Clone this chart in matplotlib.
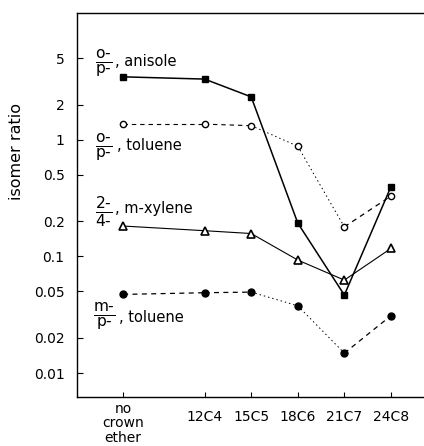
import matplotlib
matplotlib.use("Agg")
import matplotlib.pyplot as plt

plt.rcParams['font.family'] = ['DejaVu Sans']
plt.rcParams['mathtext.fontset'] = 'dejavusans'

# ---- data ----
categories = ["no\ncrown\nether", "12C4", "15C5", "18C6", "21C7", "24C8"]
x_pos = [0.25, 2, 3, 4, 5, 6]
anisole_op = [3.46, 3.31, 2.33, 0.193, 0.0466, 0.395]
toluene_op = [1.36, 1.36, 1.32, 0.88, 0.179, 0.329]
xylene_24 = [0.182, 0.166, 0.157, 0.093, 0.0626, 0.117]
toluene_mp = [0.0472, 0.0488, 0.0494, 0.0377, 0.0148, 0.031]
y_ticks = [5, 2, 1, 0.5, 0.2, 0.1, 0.05, 0.02, 0.01]
y_ticklabels = ["5", "2", "1", "0.5", "0.2", "0.1", "0.05", "0.02", "0.01"]

W, H = 424, 446
fig = plt.figure(figsize=(W / 100, H / 100), dpi=100)
L, R, T, B = 77, 424, 13, 397
ax = fig.add_axes([L / W, 1 - B / H, (R - L) / W, (B - T) / H])
ax.set_yscale('log')
ax.set_xlim(-0.74, 6.71)
ax.set_ylim(0.00623, 12.2)

def seg_plot(vals, styles):
    for i, (ls, lw) in enumerate(styles):
        ax.plot(x_pos[i:i + 2], vals[i:i + 2], color='black', linestyle=ls, lw=lw,
                zorder=2)

dash = (0, (4, 3.5))
fine = (0, (1.5, 3))

seg_plot(anisole_op, [('-', 1.1)] * 5)
seg_plot(toluene_op, [(dash, 0.8), (dash, 0.8), (fine, 0.7), (fine, 0.7), (dash, 0.9)])
seg_plot(xylene_24, [('-', 0.8)] * 5)
seg_plot(toluene_mp, [(dash, 0.9), (dash, 0.9), (fine, 0.7), (fine, 0.7), (dash, 0.9)])

ax.plot(x_pos, anisole_op, linestyle='none', marker='s', ms=5, mfc='black',
        mec='black', zorder=4)
ax.plot(x_pos, toluene_op, linestyle='none', marker='o', ms=4.5, mfc='white',
        mec='black', mew=1.0, zorder=4)
ax.plot(x_pos, xylene_24, linestyle='none', marker='^', ms=6, mfc='white',
        mec='black', mew=1.2, zorder=5)
ax.plot(x_pos, toluene_mp, linestyle='none', marker='o', ms=5, mfc='black',
        mec='black', zorder=4)

# spines & ticks
ax.spines['right'].set_visible(False)
for s in ['left', 'bottom', 'top']:
    ax.spines[s].set_linewidth(1.0)
ax.set_yticks(y_ticks)
ax.set_yticklabels(y_ticklabels)
ax.minorticks_off()
ax.tick_params(axis='y', direction='in', length=4, width=0.8, pad=9, labelsize=10)
ax.set_xticks(x_pos)
ax.set_xticklabels([])
ax.tick_params(axis='x', direction='in', length=3.5, width=0.8)

# x labels
xt = ax.get_xaxis_transform()
for xp, lab in zip(x_pos, categories):
    if "\n" in lab:
        ax.text(xp, -0.012, lab, transform=xt, ha='center', va='top', fontsize=10,
                linespacing=1.05)
    else:
        ax.text(xp, -0.034, lab, transform=xt, ha='center', va='top', fontsize=10)

def px(x, y):
    return x / W, 1 - y / H

fig.text(*px(17, 152), "isomer ratio", rotation=90, ha='center', va='center',
         fontsize=11.5)

series_labels = [
    (r'$\frac{\text{o-}}{\text{p-}}$', ", anisole", 64, 61, 115),
    (r'$\frac{\text{o-}}{\text{p-}}$', ", toluene", 148, 146, 117),
    (r'$\frac{\text{2-}}{\text{4-}}$', ", m-xylene", 212, 208, 115),
    (r'$\frac{\text{m-}}{\text{p-}}$', ", toluene", 317, 318, 119),
]
for frac, name, yc, yn, xn in series_labels:
    fig.text(*px(104, yc), frac, ha='center', va='center', fontsize=16)
    fig.text(*px(xn, yn), name, ha='left', va='center', fontsize=10.5)

fig.savefig("out.png", dpi=100)
